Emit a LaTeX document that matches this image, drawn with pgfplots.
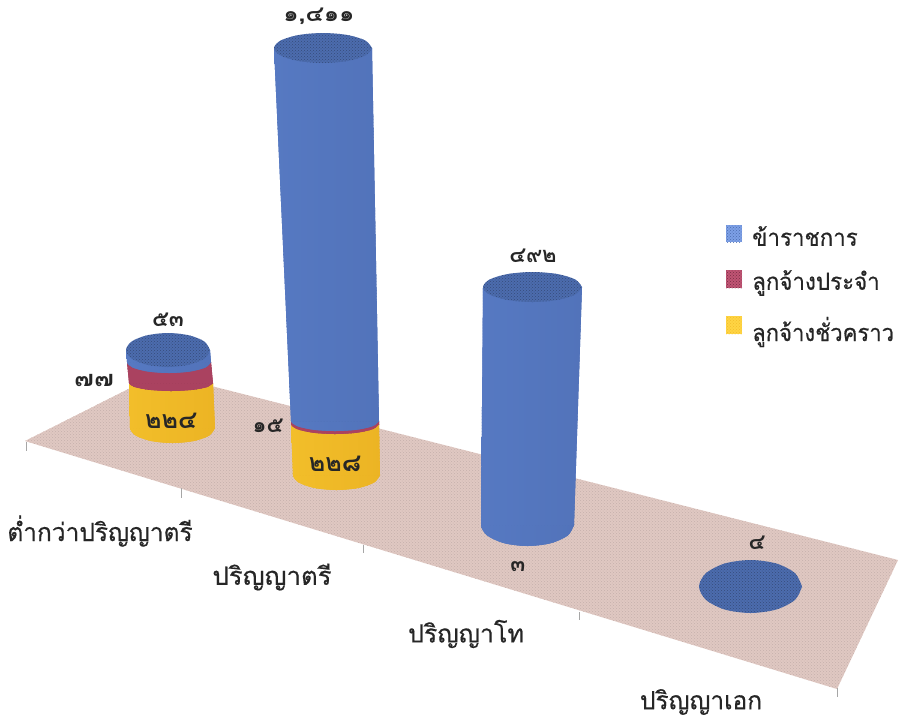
\documentclass[border=0pt]{standalone}
\usepackage{fontspec}
\setmainfont[Script=Thai]{Loma}
\newfontfamily\labfont[Script=Thai,FakeBold=0.5]{Loma}
\usepackage{pgfplots}
\pgfplotsset{compat=1.18}
\usetikzlibrary{patterns}
\definecolor{floorc}{HTML}{E0C8C2}
\definecolor{blueL}{HTML}{5679C2}
\definecolor{blueM}{HTML}{86A9F0}
\definecolor{blueR}{HTML}{5273BA}
\definecolor{blueT}{HTML}{4C6CAE}
\definecolor{blueP}{HTML}{46659F}
\definecolor{redL}{HTML}{AA4260}
\definecolor{redM}{HTML}{C05474}
\definecolor{yelL}{HTML}{F2BE2A}
\definecolor{yelM}{HTML}{FFD444}
\definecolor{yelR}{HTML}{ECB424}
\definecolor{yelP}{HTML}{E8AC22}
\tikzset{
  tex/.style={postaction={pattern=crosshatch dots,pattern color=#1}},
  bluebody/.style={draw=none,shade,shading=axis,shading angle=0,left color=blueL,middle color=blueM,right color=blueR,tex=blueP},
  redbody/.style={draw=none,shade,shading=axis,shading angle=0,left color=redL,middle color=redM,right color=redL,tex=black!30!redL},
  yelbody/.style={draw=none,shade,shading=axis,shading angle=0,left color=yelL,middle color=yelM,right color=yelR,tex=yelP},
  bluetop/.style={draw=none,fill=blueT,tex=black!30!blueT},
  lab/.style={inner sep=0pt,font=\labfont\fontsize{25}{28}\selectfont,text=black!85},
  leg/.style={inner sep=0pt,anchor=west,font=\labfont\fontsize{23.5}{28}\selectfont,text=black!85},
  num/.style={inner sep=0pt,font=\fontsize{22}{24}\selectfont\bfseries,text=black!85},
  numl/.style={inner sep=0pt,font=\fontsize{25}{28}\selectfont\bfseries,text=black!85},
}
\begin{document}
\begin{tikzpicture}
\begin{axis}[scale only axis,width=899pt,height=721pt,xmin=0,xmax=899,ymin=0,ymax=721,y dir=reverse,hide axis,clip=false,no markers]
\path (rel axis cs:0,0) rectangle (rel axis cs:1,1);
% floor
\addplot[draw=none,fill=floorc,tex=black!12!floorc] coordinates {(25,441)(160,373)(898,560)(837,689)} --cycle;
% category ticks
\addplot[draw=black!35,line width=0.8pt] coordinates {(26,442)(26,451)};
\addplot[draw=black!35,line width=0.8pt] coordinates {(181,488)(181,498)};
\addplot[draw=black!35,line width=0.8pt] coordinates {(363,545)(363,553)};
\addplot[draw=black!35,line width=0.8pt] coordinates {(579,612)(579,620)};
\addplot[draw=black!35,line width=0.8pt] coordinates {(837,688)(837,697)};
% bar 1
\addplot[yelbody,smooth] coordinates {(215,428)(209.3,435.5)(193.8,441)(172.5,443)(151.2,441)(135.7,435.5)(130,428)(135.7,420.5)(151.2,415)(172.5,413)(193.8,415)(209.3,420.5)(215,428)} --cycle;
\addplot[yelbody] coordinates {(130,428)(215,428)(213,383)(129,383)} --cycle;
\addplot[redbody,smooth] coordinates {(213,383)(207.4,387)(192,389.9)(171,391)(150,389.9)(134.6,387)(129,383)(134.6,379)(150,376.1)(171,375)(192,376.1)(207.4,379)(213,383)} --cycle;
\addplot[redbody] coordinates {(129,383)(213,383)(211,362)(127,362)} --cycle;
\addplot[bluebody,smooth] coordinates {(211,362)(205.4,367.5)(190,371.5)(169,373)(148,371.5)(132.6,367.5)(127,362)(132.6,356.5)(148,352.5)(169,351)(190,352.5)(205.4,356.5)(211,362)} --cycle;
\addplot[bluebody] coordinates {(127,362)(211,362)(210,350)(126,350)} --cycle;
\addplot[bluetop,smooth] coordinates {(210,350)(204.4,358.5)(189,364.7)(168,367)(147,364.7)(131.6,358.5)(126,350)(131.6,341.5)(147,335.3)(168,333)(189,335.3)(204.4,341.5)(210,350)} --cycle;
% bar 2
\addplot[yelbody,smooth] coordinates {(380,475)(374.2,482.5)(358.3,488)(336.5,490)(314.7,488)(298.8,482.5)(293,475)(298.8,467.5)(314.7,462)(336.5,460)(358.3,462)(374.2,467.5)(380,475)} --cycle;
\addplot[yelbody] coordinates {(293,475)(380,475)(379,424)(291,424)} --cycle;
\addplot[redbody,smooth] coordinates {(379,424)(373.1,429)(357,432.7)(335,434)(313,432.7)(296.9,429)(291,424)(296.9,419)(313,415.3)(335,414)(357,415.3)(373.1,419)(379,424)} --cycle;
\addplot[redbody] coordinates {(291,424)(379,424)(379,421)(291,421)} --cycle;
\addplot[bluebody,smooth] coordinates {(379,421)(373.1,426)(357,429.7)(335,431)(313,429.7)(296.9,426)(291,421)(296.9,416)(313,412.3)(335,411)(357,412.3)(373.1,416)(379,421)} --cycle;
\addplot[bluebody] coordinates {(291,421)(379,421)(372,48)(274,48)} --cycle;
\addplot[bluetop,smooth] coordinates {(372,48)(365.4,55.5)(347.5,61)(323,63)(298.5,61)(280.6,55.5)(274,48)(280.6,40.5)(298.5,35)(323,33)(347.5,35)(365.4,40.5)(372,48)} --cycle;
% bar 3
\addplot[bluebody,smooth] coordinates {(574,525)(567.8,535.5)(550.8,543.2)(527.5,546)(504.2,543.2)(487.2,535.5)(481,525)(487.2,514.5)(504.2,506.8)(527.5,504)(550.8,506.8)(567.8,514.5)(574,525)} --cycle;
\addplot[bluebody] coordinates {(481,525)(574,525)(582,287)(483,287)} --cycle;
\addplot[bluetop,smooth] coordinates {(582,287)(575.4,294.5)(557.3,300)(532.5,302)(507.7,300)(489.6,294.5)(483,287)(489.6,279.5)(507.7,274)(532.5,272)(557.3,274)(575.4,279.5)(582,287)} --cycle;
% bar 4
\addplot[bluetop,smooth] coordinates {(802,586.5)(795.1,599.8)(776.3,609.5)(750.5,613)(724.7,609.5)(705.9,599.8)(699,586.5)(705.9,573.2)(724.7,563.5)(750.5,560)(776.3,563.5)(795.1,573.2)(802,586.5)} --cycle;
% legend keys
\addplot[draw=none,fill=blueM!85!blueT,tex=blueT] coordinates {(726,225)(742,225)(742,242)(726,242)} --cycle;
\addplot[draw=none,fill=redM,tex=black!30!redL] coordinates {(726,270)(742,270)(742,288)(726,288)} --cycle;
\addplot[draw=none,fill=yelM,tex=yelL] coordinates {(726,316)(742,316)(742,334)(726,334)} --cycle;
% value labels
\node[num] at (axis cs:319,16) {\scalebox{1.1}[1]{๑,๔๑๑}};
\node[num] at (axis cs:533,256) {๔๙๒};
\node[num] at (axis cs:168,320) {๕๓};
\node[num] at (axis cs:94,381) {\scalebox{1.2}[1]{๗๗}};
\node[numl] at (axis cs:171,421) {๒๒๔};
\node[num] at (axis cs:268,426) {๑๕};
\node[numl] at (axis cs:335,464) {๒๒๘};
\node[num] at (axis cs:518,567) {๓};
\node[num] at (axis cs:757,543) {๔};
% category labels
\node[lab] at (axis cs:100,531) {\scalebox{0.98}[1]{ต่ำกว่าปริญญาตรี}};
\node[lab] at (axis cs:272,577) {\scalebox{1.03}[1]{ปริญญาตรี}};
\node[lab] at (axis cs:466,634) {ปริญญาโท};
\node[lab] at (axis cs:701,702) {\scalebox{0.98}[1]{ปริญญาเอก}};
% legend text
\node[leg] at (axis cs:752,236) {\scalebox{0.95}[1]{ข้าราชการ}};
\node[leg] at (axis cs:752,283) {\scalebox{0.95}[1]{ลูกจ้างประจำ}};
\node[leg] at (axis cs:752,332) {\scalebox{0.94}[1]{ลูกจ้างชั่วคราว}};
\end{axis}
\end{tikzpicture}
\end{document}
